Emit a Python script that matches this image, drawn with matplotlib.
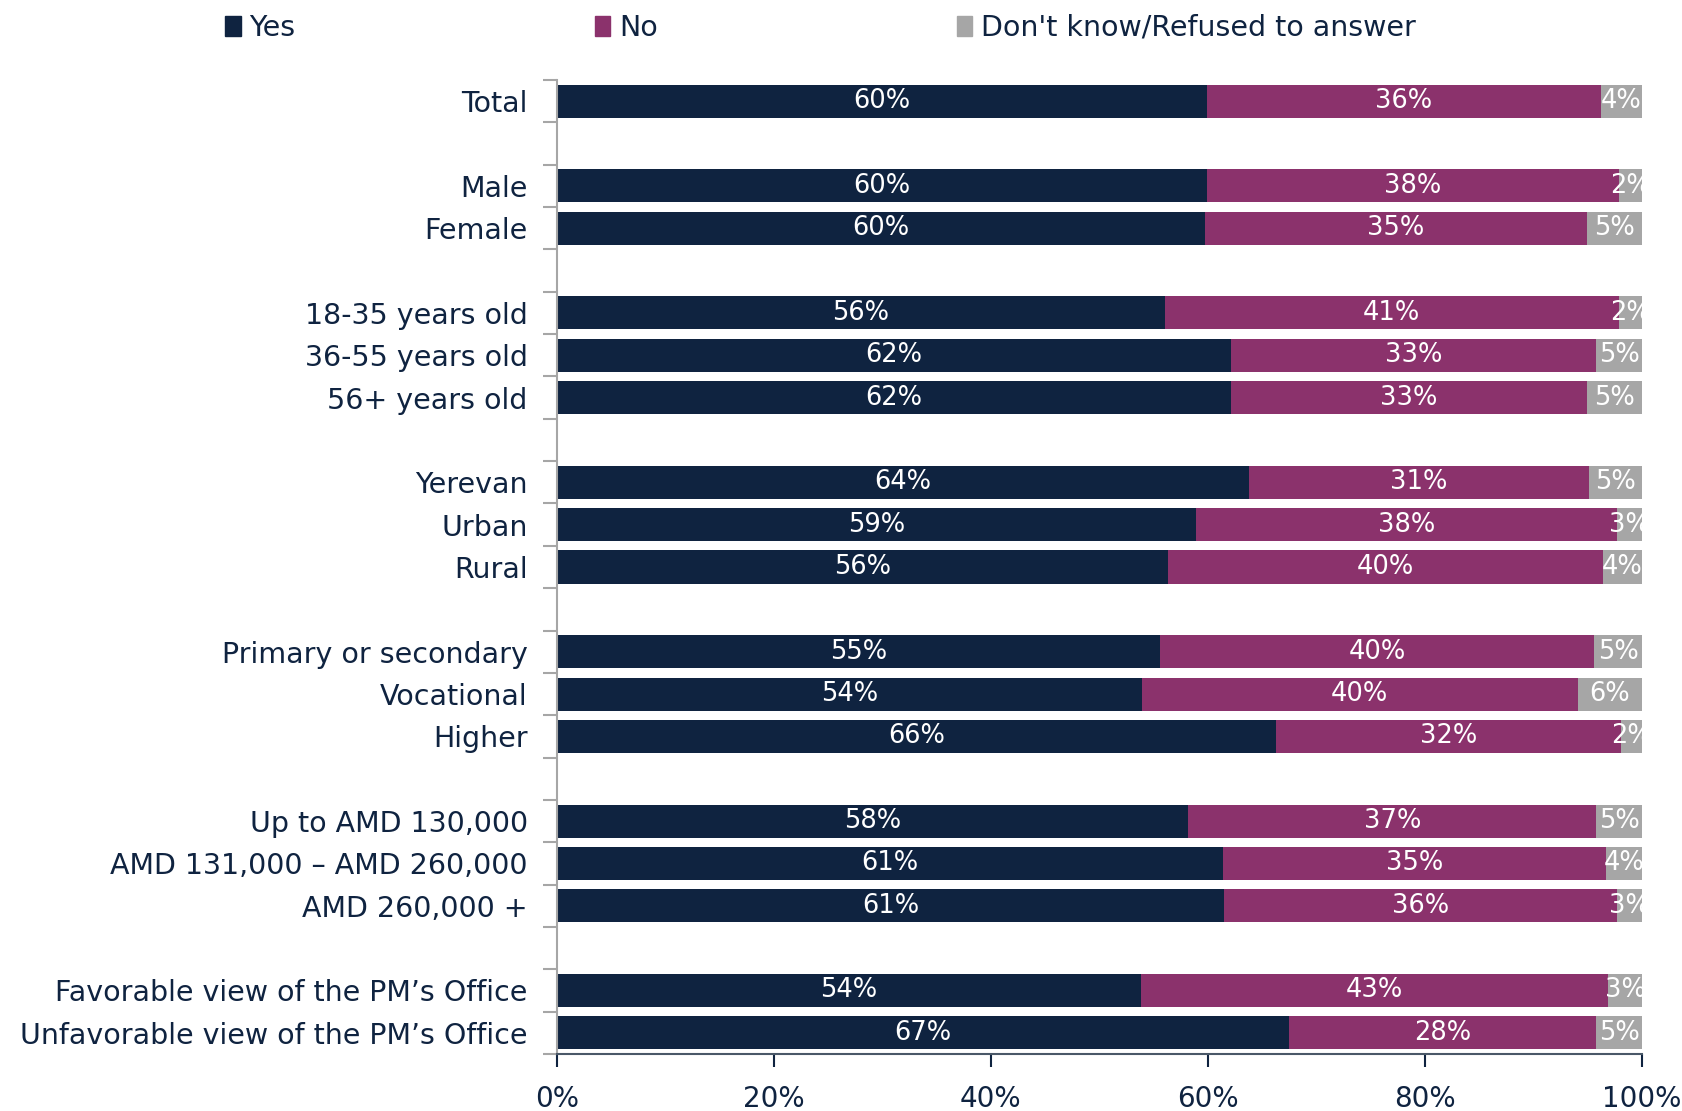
import matplotlib
matplotlib.use("Agg")
import matplotlib.pyplot as plt
from matplotlib.patches import Patch
from matplotlib.ticker import FixedLocator, PercentFormatter

NAVY = "#0F2340"
PLUM = "#8B326C"
GRAY = "#A6A6A6"

plt.rcParams["font.family"] = ["DejaVu Sans"]

# groups of categories, separated by an empty row in the chart
groups = [
    ["Total"],
    ["Male", "Female"],
    ["18-35 years old", "36-55 years old", "56+ years old"],
    ["Yerevan", "Urban", "Rural"],
    ["Primary or secondary", "Vocational", "Higher"],
    ["Up to AMD 130,000", "AMD 131,000 \u2013 AMD 260,000", "AMD 260,000 +"],
    ["Favorable view of the PM\u2019s Office", "Unfavorable view of the PM\u2019s Office"],
]

yes = [59.9, 59.9, 59.7, 56.0, 62.1, 62.1, 63.8, 58.9, 56.3,
       55.6, 53.9, 66.3, 58.2, 61.4, 61.5, 53.8, 67.5]
no = [36.3, 38.0, 35.2, 41.9, 33.7, 32.8, 31.3, 38.8, 40.1,
      40.0, 40.2, 31.8, 37.6, 35.3, 36.2, 43.1, 28.3]
dk = [3.8, 2.1, 5.1, 2.1, 4.2, 5.1, 4.9, 2.3, 3.6,
      4.4, 5.9, 1.9, 4.2, 3.3, 2.3, 3.1, 4.2]

yes_lbl = [60, 60, 60, 56, 62, 62, 64, 59, 56, 55, 54, 66, 58, 61, 61, 54, 67]
no_lbl = [36, 38, 35, 41, 33, 33, 31, 38, 40, 40, 40, 32, 37, 35, 36, 43, 28]
dk_lbl = [4, 2, 5, 2, 5, 5, 5, 3, 4, 5, 6, 2, 5, 4, 3, 3, 5]

series = ["Yes", "No", "Don't know/Refused to answer"]

# row positions: one blank slot between groups
labels, pos = [], []
slot = 0
for g in groups:
    for name in g:
        labels.append(name)
        pos.append(slot)
        slot += 1
    slot += 1
n_slots = slot - 1

fig = plt.figure(figsize=(16.82, 11.11), dpi=100)
ax = fig.add_axes([0.3311, 0.0513, 0.6451, 0.8767])

left_no = [a for a in yes]
left_dk = [a + b for a, b in zip(yes, no)]
h = 0.78
b1 = ax.barh(pos, yes, height=h, color=NAVY)
b2 = ax.barh(pos, no, left=left_no, height=h, color=PLUM)
b3 = ax.barh(pos, dk, left=left_dk, height=h, color=GRAY)

for bars, lbl in ((b1, yes_lbl), (b2, no_lbl), (b3, dk_lbl)):
    ax.bar_label(bars, labels=[f"{v}%" for v in lbl], label_type="center",
                 color="white", fontsize=18.5)

ax.set_xlim(0, 100)
ax.set_ylim(n_slots - 0.5, -0.5)

ax.xaxis.set_major_locator(FixedLocator([0, 20, 40, 60, 80, 100]))
ax.xaxis.set_major_formatter(PercentFormatter(decimals=0))
ax.tick_params(axis="x", length=9, width=1.5, color=NAVY, labelcolor=NAVY,
               labelsize=20, pad=13)

ax.set_yticks(pos)
ax.set_yticklabels(labels)
ax.set_yticks([i - 0.5 for i in range(n_slots + 1)], minor=True)
ax.tick_params(axis="y", which="major", length=0, labelcolor=NAVY,
               labelsize=20.5, pad=21)
ax.tick_params(axis="y", which="minor", length=10, width=1.5, color=GRAY)

for s in ("top", "right"):
    ax.spines[s].set_visible(False)
ax.spines["left"].set_color(GRAY)
ax.spines["left"].set_linewidth(1.5)
ax.spines["bottom"].set_color("#4A5868")
ax.spines["bottom"].set_linewidth(1.5)

handles = [Patch(color=c) for c in (NAVY, PLUM, GRAY)]
leg = fig.legend(handles, series, loc="center left", bbox_to_anchor=(0.134, 0.975),
                 ncol=3, frameon=False, fontsize=20.5, handlelength=0.55,
                 handleheight=0.7, handletextpad=0.3, columnspacing=10.5,
                 borderaxespad=0, borderpad=0)
for t in leg.get_texts():
    t.set_color(NAVY)

fig.savefig("out.png", dpi=100)
